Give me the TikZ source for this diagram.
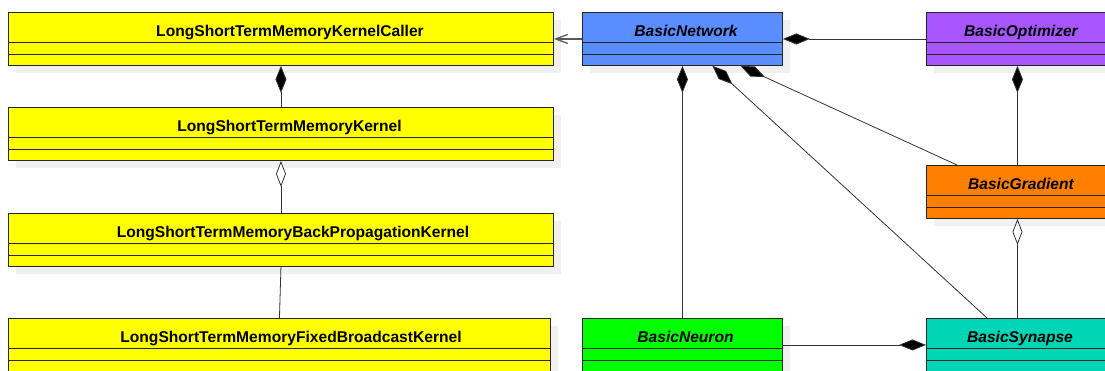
\documentclass[tikz,border=0pt]{standalone}
\usepackage{fontspec}
\setmainfont{Liberation Sans}
\usetikzlibrary{arrows.meta,calc,shadows}
\definecolor{cyellow}{HTML}{FFFF00}
\definecolor{cblue}{HTML}{5A8DFF}
\definecolor{cpurple}{HTML}{A655FF}
\definecolor{corange}{HTML}{FF8000}
\definecolor{cgreen}{HTML}{00FF00}
\definecolor{cteal}{HTML}{00D5B5}
\definecolor{shadowgray}{HTML}{F0F0F0}
\tikzset{
  classbox/.style={draw=black!85, line width=0.9pt, minimum height=53pt, inner sep=0pt, anchor=north west,
    drop shadow={shadow xshift=8pt, shadow yshift=-8pt, fill=shadowgray, opacity=1}},
  title/.style={anchor=base, inner sep=0pt, font=\fontsize{15.6}{18}\selectfont\bfseries},
  ititle/.style={anchor=base, inner sep=0pt, font=\fontsize{15.6}{18}\selectfont\bfseries\itshape},
  divider/.style={draw=black!85, line width=0.9pt},
  link/.style={draw=black!80, line width=0.8pt},
  comp/.style={link, {Diamond[length=27pt,width=11pt,fill=black]}-},
  aggr/.style={link, {Diamond[open,length=26pt,width=10pt,fill=white]}-},
  nav/.style={draw=black!65, line width=1.3pt, -{Straight Barb[length=12pt,width=9pt]}},
}
\newcommand{\dividers}[1]{%
  \draw[divider] ($(#1.north west)+(0,30.3)$) -- ($(#1.north east)+(0,30.3)$);
  \draw[divider] ($(#1.north west)+(0,42)$) -- ($(#1.north east)+(0,42)$);}
\begin{document}
\begin{tikzpicture}[x=1pt,y=-1pt]
\clip (0,0) rectangle (1105,371);
% classes
\node[classbox, fill=cyellow, minimum width=545pt] (kc) at (8,12) {};
\node[classbox, fill=cyellow, minimum width=545pt] (k) at (8,107) {};
\node[classbox, fill=cyellow, minimum width=545pt] (bp) at (8,213) {};
\node[classbox, fill=cyellow, minimum width=542pt] (fb) at (8,318) {};
\node[classbox, fill=cblue, minimum width=200pt] (net) at (582,12) {};
\node[classbox, fill=cpurple, minimum width=182pt] (opt) at (926,12) {};
\node[classbox, fill=corange, minimum width=182pt] (grad) at (926,165) {};
\node[classbox, fill=cgreen, minimum width=200pt] (neu) at (582,318) {};
\node[classbox, fill=cteal, minimum width=182pt] (syn) at (926,318) {};
\dividers{kc}\dividers{k}\dividers{bp}\dividers{fb}
\dividers{net}\dividers{opt}\dividers{grad}\dividers{neu}\dividers{syn}
% titles
\node[title] (kct) at (290,36.7) {LongShortTermMemoryKernelCaller};
\node[title] (kt) at (289.5,131.7) {LongShortTermMemoryKernel};
\node[title] (bpt) at (293,237.5) {LongShortTermMemoryBackPropagationKernel};
\node[title] (fbt) at (291,342.5) {LongShortTermMemoryFixedBroadcastKernel};
\node[ititle] (nett) at (686,36.7) {BasicNetwork};
\node[ititle] (optt) at (1021,36.7) {BasicOptimizer};
\node[ititle] (gradt) at (1021,189.7) {BasicGradient};
\node[ititle] (neut) at (685.5,342.5) {BasicNeuron};
\node[ititle] (synt) at (1020,342.5) {BasicSynapse};
% connectors
\draw[nav] (net.west) -- (kc.east);
\draw[comp] (kc.south) -- (k.north);
\draw[aggr] (k.south) -- (bp.north);
\draw[link] (bp.south) -- (fb.north);
\draw[comp] (net.south) -- (neu.north);
\draw[comp] ($(net.south)+(30,0)$) -- ($(syn.north west)+(61,0)$);
\draw[comp] ($(net.south)+(58,0)$) -- ($(grad.north west)+(31,0)$);
\draw[comp] (net.east) -- (opt.west);
\draw[comp] (opt.south) -- (grad.north);
\draw[aggr] (grad.south) -- (syn.north);
\draw[comp] (syn.west) -- (neu.east);
\end{tikzpicture}
\end{document}
